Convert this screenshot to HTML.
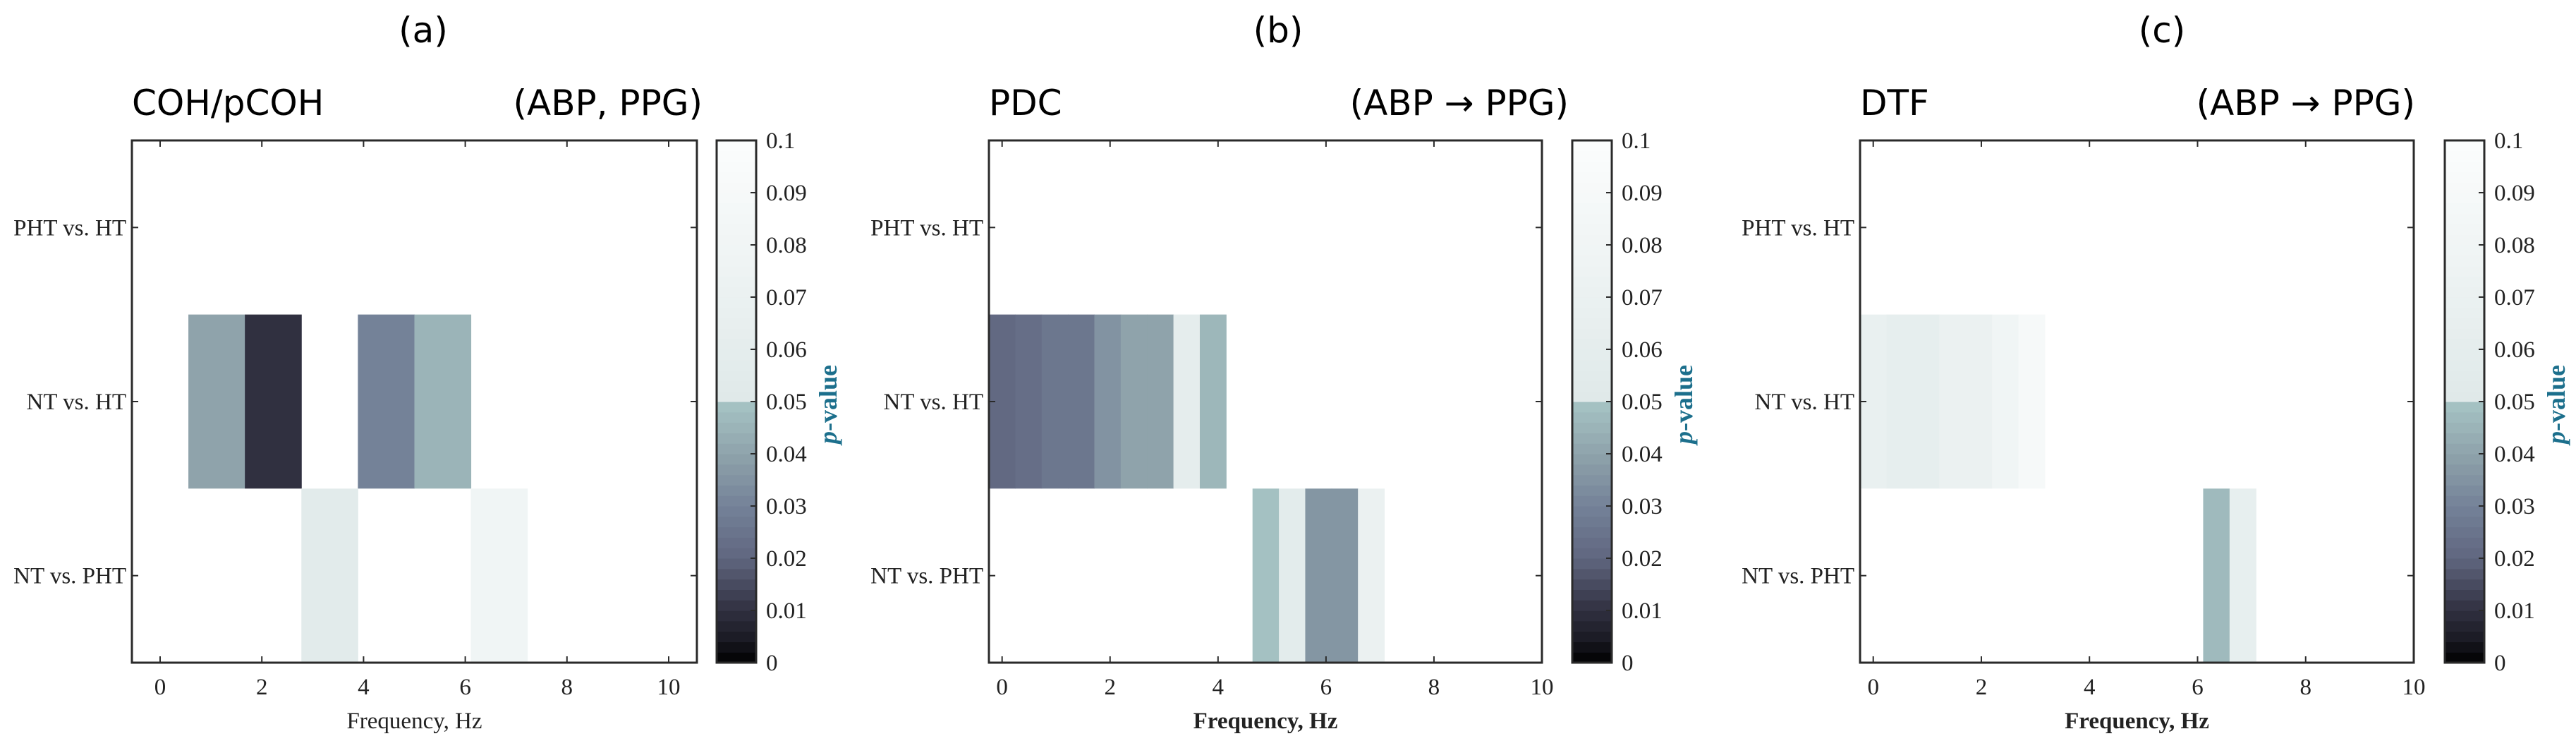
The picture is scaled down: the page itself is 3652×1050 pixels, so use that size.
<!DOCTYPE html>
<html><head><meta charset="utf-8"><style>
html,body{margin:0;padding:0;background:#fff;}
svg{display:block;}
.tick{font-family:"Liberation Serif",serif;font-size:33px;fill:#222;}
.ttl{font-family:"DejaVu Sans",sans-serif;font-size:50px;fill:#000;}
</style></head><body>
<svg id="fig" width="3652" height="1050" viewBox="0 0 3652 1050" xmlns="http://www.w3.org/2000/svg"></svg>
<script>
// ---- data ----
const rowLabels = ["PHT vs. HT", "NT vs. HT", "NT vs. PHT"];
const xTicks = [0, 2, 4, 6, 8, 10];
const cbTicks = [0, 0.01, 0.02, 0.03, 0.04, 0.05, 0.06, 0.07, 0.08, 0.09, 0.1];
const cbTickLabels = ["0","0.01","0.02","0.03","0.04","0.05","0.06","0.07","0.08","0.09","0.1"];
// p-values per frequency bin (null = not significant / blank)
const cohBinHz = 1.111;
const cohPHTvsHT = [];
const cohNTvsHT = [null, 0.040, 0.010, null, 0.030, 0.045];
const cohNTvsPHT = [null, null, null, 0.055, null, null, 0.080];
const pdcBinHz = 0.4883;
const pdcPHTvsHT = [];
const pdcNTvsHT = [0.021, 0.023, 0.026, 0.026, 0.035, 0.040, 0.040, 0.060, 0.046];
const pdcNTvsPHT = [null,null,null,null,null,null,null,null,null,null, 0.049, 0.057, 0.036, 0.036, 0.070];
const dtfBinHz = 0.4883;
const dtfPHTvsHT = [];
const dtfNTvsHT = [0.068, 0.062, 0.062, 0.070, 0.070, 0.080, 0.090];
const dtfNTvsPHT = [null,null,null,null,null,null,null,null,null,null,null,null,null, 0.047, 0.064];

// ---- colormap ----
const cmStops = [[0,[0,0,0]],[0.005,[28,28,38]],[0.01,[48,48,64]],[0.02,[96,102,127]],[0.03,[116,130,152]],[0.04,[143,163,171]],[0.0499,[166,196,196]],[0.05,[223,233,233]],[0.1,[252,253,253]]];
function cmap(v){
  for(let i=1;i<cmStops.length;i++){
    if(v<=cmStops[i][0]){const a=cmStops[i-1],b=cmStops[i];const t=(v-a[0])/(b[0]-a[0]);
      const c=a[1].map((x,k)=>Math.round(x+(b[1][k]-x)*t));return `rgb(${c[0]},${c[1]},${c[2]})`;}
  }
  return "rgb(252,253,253)";
}
const NS="http://www.w3.org/2000/svg";
const svg=document.getElementById("fig");
function mk(tag,attrs,parent){const e=document.createElementNS(NS,tag);for(const k in attrs)e.setAttribute(k,attrs[k]);(parent||svg).appendChild(e);return e;}

const panels=[
 {id:"a",letter:"(a)",letterX:600,title:"COH/pCOH",right:"(ABP, PPG)",rightEnd:996,L:187,R:988,xmin:-0.555,xmax:10.555,bin:cohBinHz,rows:[cohPHTvsHT,cohNTvsHT,cohNTvsPHT],cbL:1016,bold:false},
 {id:"b",letter:"(b)",letterX:1812,title:"PDC",right:"(ABP \u2192 PPG)",rightEnd:2224,L:1402,R:2186,xmin:-0.244,xmax:10,bin:pdcBinHz,rows:[pdcPHTvsHT,pdcNTvsHT,pdcNTvsPHT],cbL:2229,bold:true},
 {id:"c",letter:"(c)",letterX:3065,title:"DTF",right:"(ABP \u2192 PPG)",rightEnd:3424,L:2637,R:3422,xmin:-0.244,xmax:10,bin:dtfBinHz,rows:[dtfPHTvsHT,dtfNTvsHT,dtfNTvsPHT],cbL:3466,bold:true}
];
const T=199,B=939,cbW=56;
panels.forEach(p=>{
  const g=mk("g",{});
  
  
  const xs=v=>p.L+(v-p.xmin)/(p.xmax-p.xmin)*(p.R-p.L);
  const rh=(B-T)/3;
  let t=mk("text",{x:p.letterX,y:60,"text-anchor":"middle",class:"ttl"},g);t.textContent=p.letter;
  
  t=mk("text",{x:p.L,y:163,class:"ttl"},g);t.textContent=p.title;
  
  t=mk("text",{x:p.rightEnd,y:163,"text-anchor":"end",class:"ttl"},g);t.textContent=p.right;
  
  p.rows.forEach((row,ri)=>{
    row.forEach((v,bi)=>{
      if(v===null||v===undefined)return;
      const x0=Math.max(xs((bi-0.5)*p.bin),p.L),x1=Math.min(xs((bi+0.5)*p.bin),p.R);
      const r=mk("rect",{x:x0,y:T+ri*rh,width:x1-x0+0.5,height:rh,fill:cmap(v)},g);
      
      
    });
  });
  const fr=mk("rect",{x:p.L,y:T,width:p.R-p.L,height:B-T,fill:"none",stroke:"#2a2a2a","stroke-width":3},g);
  
  xTicks.forEach(v=>{
    const x=xs(v);
    mk("line",{x1:x,x2:x,y1:B,y2:B-9,stroke:"#2a2a2a","stroke-width":2},g);
    mk("line",{x1:x,x2:x,y1:T,y2:T+9,stroke:"#2a2a2a","stroke-width":2},g);
    const tl=mk("text",{x:x,y:984,"text-anchor":"middle",class:"tick"},g);tl.textContent=String(v);
    
  });
  rowLabels.forEach((lab,ri)=>{
    const y=T+(ri+0.5)*rh;
    mk("line",{x1:p.L,x2:p.L+9,y1:y,y2:y,stroke:"#2a2a2a","stroke-width":2},g);
    mk("line",{x1:p.R,x2:p.R-9,y1:y,y2:y,stroke:"#2a2a2a","stroke-width":2},g);
    const tl=mk("text",{x:p.L-8,y:y+11,"text-anchor":"end",class:"tick"},g);tl.textContent=lab;
    
  });
  const xl=mk("text",{x:(p.L+p.R)/2,y:1032,"text-anchor":"middle",class:"tick","font-size":"36","font-weight":p.bold?"bold":"normal"},g);
  xl.textContent="Frequency, Hz";
  
  const N=50;
  for(let i=0;i<N;i++){
    const v=(i+0.5)/N*0.1;
    const y0=B-(i+1)/N*(B-T);
    mk("rect",{x:p.cbL,y:y0,width:cbW,height:(B-T)/N+0.6,fill:cmap(v)},g);
  }
  const cf=mk("rect",{x:p.cbL,y:T,width:cbW,height:B-T,fill:"none",stroke:"#2a2a2a","stroke-width":3},g);
  
  cbTicks.forEach((v,i)=>{
    const y=B-v/0.1*(B-T);
    mk("line",{x1:p.cbL+cbW,x2:p.cbL+cbW-8,y1:y,y2:y,stroke:"#2a2a2a","stroke-width":2},g);
    const tl=mk("text",{x:p.cbL+70,y:y+11,class:"tick"},g);tl.textContent=cbTickLabels[i];
    
  });
  const pl=mk("text",{x:0,y:0,"text-anchor":"middle","font-family":"Liberation Serif, serif","font-size":"36","font-weight":"bold",fill:"#1c6f8c",transform:`translate(${p.cbL+170},573) rotate(-90)`},g);
  pl.innerHTML='<tspan font-style="italic">p</tspan>-value';
  
});
</script>
</body></html>
